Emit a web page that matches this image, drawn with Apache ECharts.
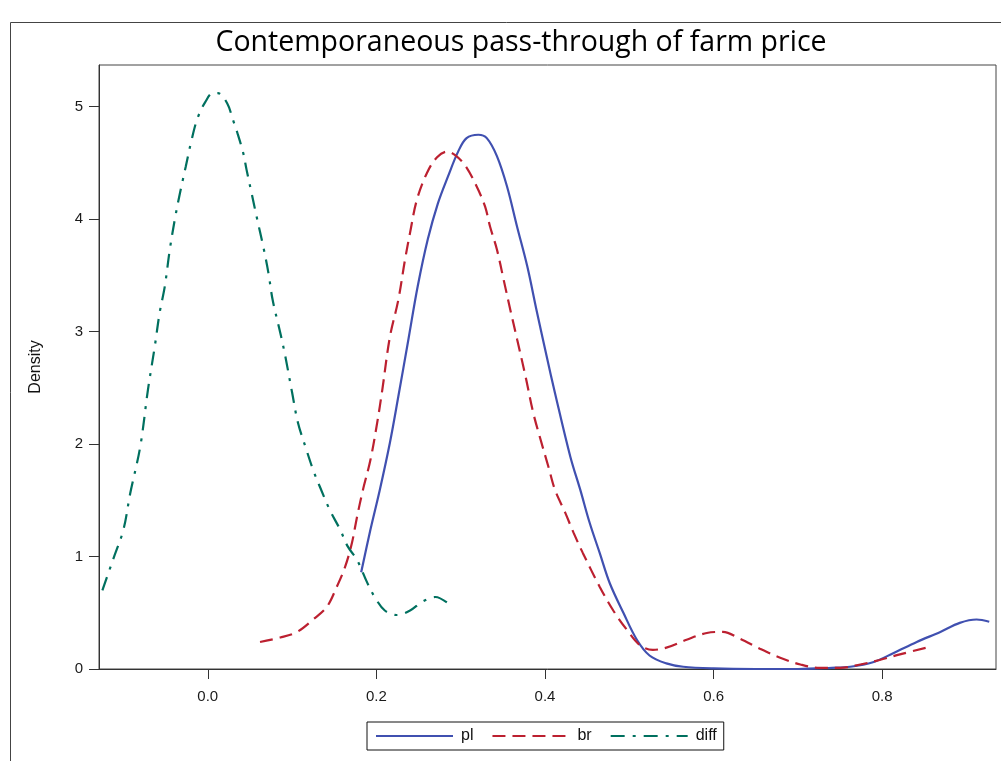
<!DOCTYPE html>
<html>
<head>
<meta charset="utf-8">
<script src="https://cdn.jsdelivr.net/npm/echarts@6/dist/echarts.min.js"></script>
<style>
html,body{margin:0;padding:0;background:#fff;}
#chart{width:1001px;height:761px;}
</style>
</head>
<body>
<div id="chart"></div>
<script>
// ---- data ----
var seriesNames = ['pl', 'br', 'diff'];

var plX = [0.182,0.193,0.204,0.216,0.226,0.238,0.249,0.261,0.273,0.285,0.297,0.307,0.321,0.331,0.343,0.355,0.367,0.379,0.390,0.402,0.412,0.430,0.442,0.453,0.465,0.477,0.493,0.509,0.524,0.544,0.564,0.600,0.650,0.700,0.740,0.762,0.789,0.813,0.841,0.869,0.892,0.912,0.927];
var plY = [0.86,1.24,1.59,2.01,2.42,2.93,3.40,3.82,4.14,4.38,4.60,4.72,4.75,4.72,4.56,4.29,3.93,3.58,3.19,2.78,2.45,1.89,1.59,1.30,1.03,0.76,0.50,0.26,0.12,0.05,0.02,0.005,0.0,0.0,0.01,0.02,0.06,0.14,0.24,0.33,0.41,0.44,0.42];

var brX = [0.062,0.086,0.106,0.125,0.141,0.153,0.163,0.171,0.177,0.184,0.193,0.201,0.207,0.216,0.226,0.234,0.240,0.248,0.260,0.272,0.284,0.293,0.305,0.319,0.329,0.335,0.343,0.351,0.359,0.367,0.377,0.386,0.394,0.404,0.412,0.424,0.434,0.445,0.465,0.481,0.497,0.513,0.528,0.544,0.568,0.592,0.611,0.631,0.655,0.679,0.703,0.726,0.750,0.774,0.797,0.821,0.853];
var brY = [0.24,0.28,0.33,0.44,0.55,0.73,0.91,1.12,1.35,1.59,1.86,2.19,2.48,2.95,3.28,3.64,3.88,4.17,4.41,4.55,4.60,4.57,4.48,4.29,4.11,3.93,3.73,3.46,3.19,2.93,2.60,2.28,2.06,1.80,1.59,1.39,1.21,1.03,0.73,0.52,0.35,0.21,0.17,0.19,0.26,0.32,0.33,0.27,0.18,0.10,0.04,0.01,0.01,0.04,0.08,0.13,0.19];

var diffX = [-0.125,-0.112,-0.100,-0.092,-0.080,-0.071,-0.063,-0.057,-0.051,-0.045,-0.039,-0.033,-0.026,-0.019,-0.012,-0.003,0.006,0.012,0.023,0.030,0.035,0.042,0.046,0.052,0.058,0.066,0.072,0.077,0.086,0.092,0.100,0.107,0.117,0.125,0.133,0.145,0.157,0.166,0.177,0.189,0.198,0.210,0.224,0.240,0.255,0.270,0.284];
var diffY = [0.70,0.98,1.24,1.56,1.98,2.48,2.86,3.17,3.40,3.73,4.00,4.23,4.47,4.71,4.90,5.04,5.12,5.12,5.03,4.88,4.77,4.59,4.44,4.23,4.02,3.75,3.52,3.28,2.99,2.78,2.46,2.19,1.95,1.77,1.62,1.41,1.24,1.09,0.97,0.77,0.64,0.52,0.48,0.52,0.60,0.64,0.59];

var xTicks = [0.0, 0.2, 0.4, 0.6, 0.8];
var yTicks = [0, 1, 2, 3, 4, 5];

function pairs(xs, ys) { return xs.map(function (x, i) { return [x, ys[i]]; }); }

var chart = echarts.init(document.getElementById('chart'));
var labelFont = {fontFamily: 'Liberation Sans', fontSize: 15, color: '#1a1a1a'};

chart.setOption({
  animation: false,
  backgroundColor: '#fff',
  title: {
    text: 'Contemporaneous pass-through of farm price',
    left: 516, textAlign: 'center', top: 23,
    textStyle: {fontFamily: 'Open Sans', fontSize: 28.5, fontWeight: 'normal', color: '#000'}
  },
  graphic: [{
    type: 'rect', left: 8, top: 20, silent: true,
    shape: {width: 992, height: 760},
    style: {fill: 'none', stroke: '#444', lineWidth: 1}
  }],
  grid: {left: 99, top: 65, right: 5, bottom: 92, show: true, borderColor: '#444', borderWidth: 1, backgroundColor: 'transparent'},
  legend: {
    left: 367, top: 722,
    itemWidth: 77, itemHeight: 14, itemGap: 18,
    padding: [6, 7, 6, 8],
    borderColor: '#111', borderWidth: 1,
    itemStyle: {opacity: 0},
    textStyle: {fontFamily: 'Liberation Sans', fontSize: 16, color: '#111', padding: [0, 0, 0, 3]},
    data: seriesNames
  },
  xAxis: {
    type: 'value', min: -0.129, max: 0.935,
    axisLine: {show: true, onZero: false, lineStyle: {color: '#333'}},
    axisTick: {show: true, length: 10, customValues: xTicks, lineStyle: {color: '#333'}},
    axisLabel: Object.assign({customValues: xTicks, margin: 20, formatter: function (v) { return v.toFixed(1); }}, labelFont),
    splitLine: {show: false}
  },
  yAxis: {
    type: 'value', min: 0, max: 5.37,
    name: 'Density', nameLocation: 'middle', nameGap: 55, nameRotate: 90,
    nameTextStyle: {fontFamily: 'Liberation Sans', fontSize: 16, color: '#111'},
    axisLine: {show: true, onZero: false, lineStyle: {color: '#333'}},
    axisTick: {show: true, length: 10, customValues: yTicks, lineStyle: {color: '#333'}},
    axisLabel: Object.assign({customValues: yTicks, margin: 16}, labelFont),
    splitLine: {show: false}
  },
  series: [
    {name: 'pl', type: 'line', data: pairs(plX, plY), smooth: 0.35, showSymbol: false, symbol: 'none',
     lineStyle: {color: '#4050B0', width: 2.2, type: 'solid'}, itemStyle: {color: '#4050B0'}},
    {name: 'br', type: 'line', data: pairs(brX, brY), smooth: 0.35, showSymbol: false, symbol: 'none',
     lineStyle: {color: '#BC2030', width: 2.2, type: [13, 7]}, itemStyle: {color: '#BC2030'}},
    {name: 'diff', type: 'line', data: pairs(diffX, diffY), smooth: 0.35, showSymbol: false, symbol: 'none',
     lineStyle: {color: '#00705F', width: 2.2, type: [14, 8, 3, 8]}, itemStyle: {color: '#00705F'}}
  ]
});
</script>
</body>
</html>
